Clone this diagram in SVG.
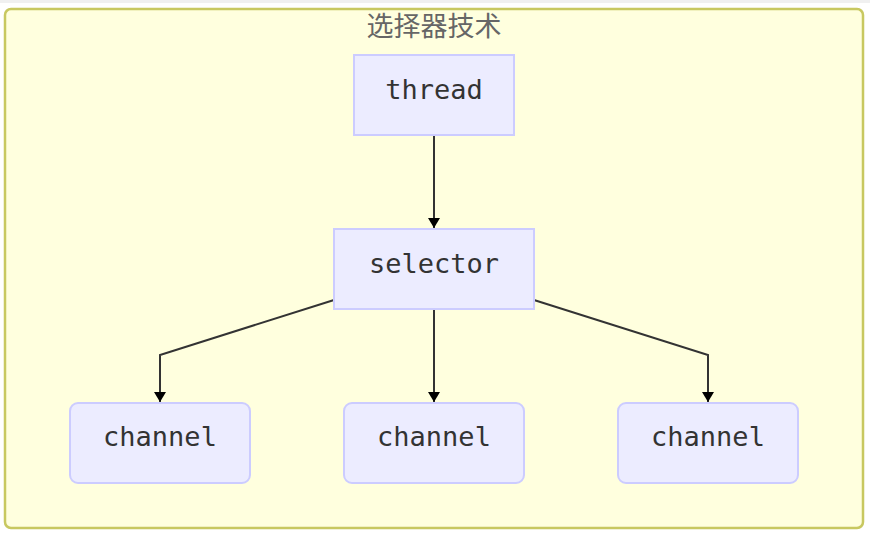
<svg xmlns="http://www.w3.org/2000/svg" width="870" height="534" viewBox="0 0 870 534">
<style>
.node rect{fill:#ececff;stroke:#ccccff;stroke-width:2}
.node text{font-family:"DejaVu Sans Mono","Liberation Mono",monospace;font-size:27px;fill:#333;text-anchor:middle}
.edge{fill:none;stroke:#333;stroke-width:2}
</style>
<defs>
<marker id="arr" markerWidth="12" markerHeight="12" refX="10" refY="6" orient="auto" markerUnits="userSpaceOnUse">
<path d="M0,0 L10,6 L0,12 z" fill="#000"/>
</marker>
</defs>
<rect x="0" y="0" width="870" height="534" fill="#ffffff"/>
<rect x="0" y="0" width="870" height="3" fill="#f0f0f0"/>
<g id="cluster">
<rect x="5" y="9" width="858" height="519" rx="6" fill="#ffffde" stroke="#c8c860" stroke-width="2.5"/>
<text x="434" y="36" font-family="'Noto Sans CJK SC',sans-serif" font-size="27" fill="#666" text-anchor="middle">选择器技术</text>
</g>
<g id="edges">
<path class="edge" d="M434,135 L434,228" marker-end="url(#arr)"/>
<path class="edge" d="M334,300 L160,355 L160,402" marker-end="url(#arr)"/>
<path class="edge" d="M434,309 L434,402" marker-end="url(#arr)"/>
<path class="edge" d="M534,300 L708,355 L708,402" marker-end="url(#arr)"/>
</g>
<g id="thread" class="node">
<rect x="354" y="55" width="160" height="80"/>
<text x="434" y="99">thread</text>
</g>
<g id="selector" class="node">
<rect x="334" y="229" width="200" height="80"/>
<text x="434" y="273">selector</text>
</g>
<g id="channel1" class="node">
<rect x="70" y="403" width="180" height="80" rx="8"/>
<text x="160" y="446">channel</text>
</g>
<g id="channel2" class="node">
<rect x="344" y="403" width="180" height="80" rx="8"/>
<text x="434" y="446">channel</text>
</g>
<g id="channel3" class="node">
<rect x="618" y="403" width="180" height="80" rx="8"/>
<text x="708" y="446">channel</text>
</g>
</svg>
